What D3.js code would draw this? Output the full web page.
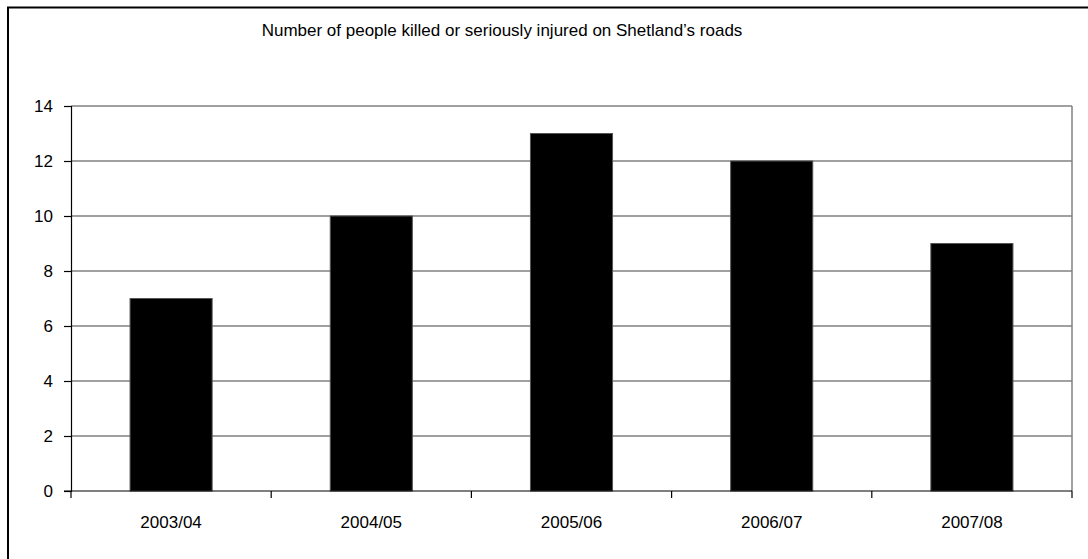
<!DOCTYPE html>
<html>
<head>
<meta charset="utf-8">
<script src="https://cdn.jsdelivr.net/npm/d3@7"></script>
<style>
  html, body { margin: 0; padding: 0; background: #fff; }
  svg { display: block; }
  text { font-family: "Liberation Sans", Arial, sans-serif; fill: #000; }
</style>
</head>
<body>
<script>
// Road casualty counts per financial year
const years = ["2003/04", "2004/05", "2005/06", "2006/07", "2007/08"];
const casualties = [7, 10, 13, 12, 9];
const yTicks = [0, 2, 4, 6, 8, 10, 12, 14];
const chartTitle = "Number of people killed or seriously injured on Shetland\u2019s roads";

const W = 1088, H = 559;
const plot = { left: 71, right: 1072, top: 106, bottom: 491 };
const fontSize = 17;

const svg = d3.select("body").append("svg")
  .attr("width", W).attr("height", H);

// outer chart frame (extends past the window on right and bottom)
svg.append("rect")
  .attr("x", 8).attr("y", 7.5)
  .attr("width", 1200).attr("height", 700)
  .attr("fill", "none").attr("stroke", "#000").attr("stroke-width", 2);

svg.append("text")
  .attr("x", 502).attr("y", 36)
  .attr("text-anchor", "middle")
  .attr("font-size", fontSize)
  .text(chartTitle);

const x = d3.scaleBand().domain(years)
  .range([plot.left, plot.right]).paddingInner(0.59).paddingOuter(0.295);
const xOuter = d3.scaleBand().domain(years).range([plot.left, plot.right]);
const y = d3.scaleLinear().domain([0, 14]).range([plot.bottom, plot.top]);

// gridlines
svg.append("g").selectAll("line").data(yTicks.filter(d => d > 0)).join("line")
  .attr("x1", plot.left).attr("x2", plot.right)
  .attr("y1", d => y(d)).attr("y2", d => y(d))
  .attr("stroke", "#808080").attr("stroke-width", 1.5);

// right border of plot area
svg.append("line")
  .attr("x1", plot.right).attr("x2", plot.right)
  .attr("y1", plot.top).attr("y2", plot.bottom)
  .attr("stroke", "#808080").attr("stroke-width", 1.5);

// bars
svg.append("g").selectAll("rect").data(casualties).join("rect")
  .attr("x", (d, i) => x(years[i]))
  .attr("y", d => y(d))
  .attr("width", x.bandwidth())
  .attr("height", d => y(0) - y(d))
  .attr("fill", "#000").attr("stroke", "#555").attr("stroke-width", 1);

// y axis
const yAxis = d3.axisLeft(y).tickValues(yTicks).tickSize(7).tickPadding(11);
const gy = svg.append("g").attr("transform", `translate(${plot.left},0)`).call(yAxis);
gy.select(".domain").attr("stroke", "#000").attr("stroke-width", 1.2);
gy.selectAll(".tick line").attr("stroke", "#000").attr("stroke-width", 1.2);
gy.selectAll("text").attr("font-size", fontSize)
  .attr("font-family", "Liberation Sans, Arial, sans-serif").attr("fill", "#000");

// x axis: ticks sit on category boundaries, labels centred under bars
const gx = svg.append("g").attr("transform", `translate(0,${plot.bottom})`);
gx.append("line")
  .attr("x1", plot.left - 7).attr("x2", plot.right)
  .attr("y1", 0).attr("y2", 0)
  .attr("stroke", "#000").attr("stroke-width", 1.2);
const bounds = years.map(d => xOuter(d)).concat([plot.right]);
gx.selectAll("line.tick").data(bounds).join("line")
  .attr("class", "tick")
  .attr("x1", d => d).attr("x2", d => d)
  .attr("y1", 0).attr("y2", 7)
  .attr("stroke", "#000").attr("stroke-width", 1.2);
gx.selectAll("text").data(years).join("text")
  .attr("x", d => xOuter(d) + xOuter.bandwidth() / 2)
  .attr("y", 37)
  .attr("text-anchor", "middle")
  .attr("font-size", fontSize)
  .text(d => d);
</script>
</body>
</html>
